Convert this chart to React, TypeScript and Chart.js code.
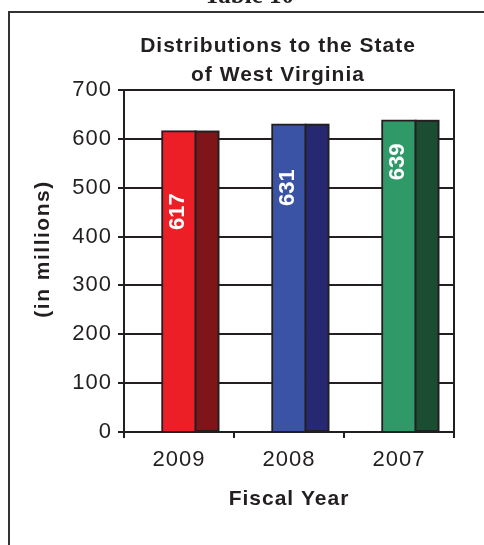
import React, { useEffect, useRef } from 'react';
import { Chart, registerables } from 'chart.js';

Chart.register(...registerables);

const categories = ['2009', '2008', '2007'];
const values = [617, 631, 639];
const valueLabels = ['617', '631', '639'];
const yTickValues = [0, 100, 200, 300, 400, 500, 600, 700];
const frontColors = ['#ED1F26', '#3A53A4', '#2F9A68'];
const sideColors = ['#7E1518', '#262872', '#1A4D32'];
const titleLines = ['Distributions to the State', 'of West Virginia'];
const yTitle = '(in millions)';
const xTitle = 'Fiscal Year';
const caption = 'Table 10';

const INK = '#231f20';
const SANS = '"Liberation Sans", Arial, Helvetica, sans-serif';

const decorPlugin = {
  id: 'decor',
  beforeDraw(chart: any) {
    (chart.ctx as any).letterSpacing = '1px';
  },
  afterDatasetsDraw(chart: any) {
    const ctx = chart.ctx;
    const meta = chart.getDatasetMeta(0);
    const sideWidth = 23;
    const labelOffsets = [81, 64, 42];
    ctx.save();
    meta.data.forEach((el: any, i: number) => {
      const { x, y, base, width } = el.getProps(['x', 'y', 'base', 'width'], true);
      const left = x + width / 2 - 1;
      ctx.fillStyle = sideColors[i];
      ctx.fillRect(left, y + 1, sideWidth, base - y - 1);
      ctx.strokeStyle = INK;
      ctx.lineWidth = 2;
      ctx.strokeRect(left, y + 1, sideWidth, base - y - 1);
    });
    meta.data.forEach((el: any, i: number) => {
      const { x, y } = el.getProps(['x', 'y'], true);
      ctx.save();
      ctx.translate(x - 1, y + labelOffsets[i]);
      ctx.rotate(-Math.PI / 2);
      (ctx as any).letterSpacing = '0px';
      ctx.fillStyle = '#ffffff';
      ctx.font = `bold 22px ${SANS}`;
      ctx.textAlign = 'center';
      ctx.textBaseline = 'middle';
      ctx.fillText(valueLabels[i], 0, 0);
      ctx.restore();
    });
    const a = chart.chartArea;
    ctx.strokeStyle = INK;
    ctx.lineWidth = 2;
    ctx.beginPath();
    ctx.moveTo(a.right, a.top - 1);
    ctx.lineTo(a.right, a.bottom);
    ctx.stroke();
    ctx.restore();
  },
  afterDraw(chart: any) {
    const ctx = chart.ctx;
    ctx.save();
    ctx.strokeStyle = '#333333';
    ctx.lineWidth = 2;
    ctx.beginPath();
    ctx.moveTo(9, 546);
    ctx.lineTo(9, 12);
    ctx.lineTo(486, 12);
    ctx.stroke();
    ctx.fillStyle = INK;
    (ctx as any).letterSpacing = '0px';
    ctx.font = 'bold 25px "Liberation Serif", "Times New Roman", serif';
    ctx.textAlign = 'center';
    ctx.textBaseline = 'alphabetic';
    ctx.fillText(caption, 249, 3);
    (ctx as any).letterSpacing = '1px';
    ctx.font = `bold 21px ${SANS}`;
    ctx.textBaseline = 'middle';
    ctx.fillText(titleLines[0], 278, 46);
    ctx.fillText(titleLines[1], 278, 75);
    ctx.save();
    ctx.translate(43, 249);
    ctx.rotate(-Math.PI / 2);
    (ctx as any).letterSpacing = '1.5px';
    ctx.font = `bold 21px ${SANS}`;
    ctx.fillText(yTitle, 0, 0);
    ctx.restore();
    ctx.restore();
  },
};

export default function App() {
  const ref = useRef<HTMLCanvasElement | null>(null);
  useEffect(() => {
    if (!ref.current) return;
    const chart = new Chart(ref.current, {
      type: 'bar',
      data: {
        labels: categories,
        datasets: [
          {
            data: values,
            backgroundColor: frontColors,
            borderColor: INK,
            borderWidth: 2,
            barThickness: 35,
          },
        ],
      },
      options: {
        responsive: false,
        maintainAspectRatio: false,
        animation: false,
        layout: { padding: { left: 0, top: 90, right: 30, bottom: 0 } },
        plugins: {
          legend: { display: false },
          tooltip: { enabled: false },
          title: { display: false },
        },
        scales: {
          x: {
            grid: {
              display: true,
              drawOnChartArea: false,
              drawTicks: true,
              tickLength: 6,
              color: INK,
              lineWidth: 2,
              offset: true,
            },
            border: { display: true, color: INK, width: 2 },
            ticks: { color: INK, font: { family: SANS, size: 22 }, padding: 9 },
            title: {
              display: true,
              text: xTitle,
              color: INK,
              font: { family: SANS, size: 21, weight: 'bold' },
              padding: { top: 0, bottom: 33 },
            },
            afterFit: (s: any) => {
              s.height = 113;
            },
          },
          y: {
            min: 0,
            max: 700,
            afterBuildTicks: (s: any) => {
              s.ticks = yTickValues.map((v) => ({ value: v }));
            },
            grid: { color: INK, lineWidth: 2, tickLength: 6, drawTicks: true },
            border: { display: true, color: INK, width: 2 },
            ticks: { color: INK, font: { family: SANS, size: 22 }, padding: 6 },
            afterFit: (s: any) => {
              s.width = 124;
            },
          },
        },
      } as any,
      plugins: [decorPlugin],
    });
    return () => chart.destroy();
  }, []);
  return (
    <div style={{ position: 'fixed', left: 0, top: 0, width: 484, height: 545, background: '#fff' }}>
      <canvas ref={ref} width={484} height={545} style={{ display: 'block' }} />
    </div>
  );
}
